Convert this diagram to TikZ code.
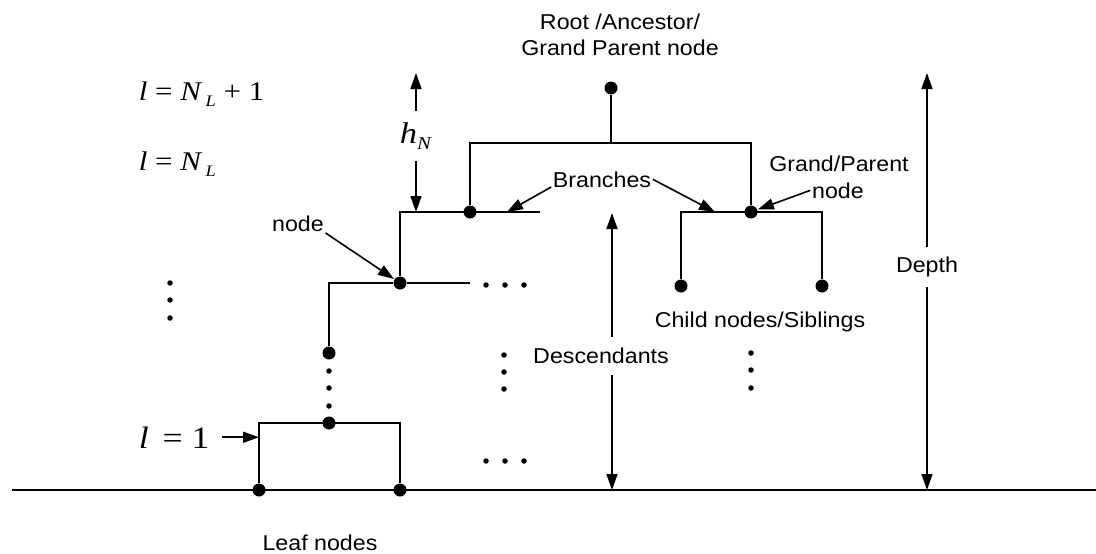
\documentclass[tikz,border=0pt]{standalone}
\usepackage{fontspec}
\setmainfont{Liberation Sans}[FakeStretch=1.08]
\newfontfamily\tms{Liberation Serif}[FakeStretch=1.15]
\usetikzlibrary{arrows.meta,positioning}

\begin{document}
\begin{tikzpicture}[x=1pt, y=-1pt, line width=1.6pt,
    every node/.style={font=\fontsize{21.5}{25}\selectfont, inner sep=1pt},
    bigdot/.style={circle, fill=black, inner sep=0pt, minimum size=13pt},
    smalldot/.style={circle, fill=black, inner sep=0pt, minimum size=5.5pt},
    arr/.style={-{Triangle[length=16pt, width=11pt]}},
    eqn/.style={font=\tms\fontsize{27}{30}\selectfont, anchor=base west}]

    \useasboundingbox (0,0) rectangle (1096,554);

    % Ground line
    \coordinate (gl) at (12,490);
    \coordinate (gr) at (1096,490);
    \draw[line width=2.2pt] (gl) -- (gr);

    % Leaf level, l = 1
    \node[bigdot] (leaf1) at (259,490) {};
    \node[bigdot] (leaf2) at (400,490) {};
    \node[bigdot] (n1) at (329,423) {};
    \draw (leaf1) -- (leaf1 |- n1) -- (leaf2 |- n1) -- (leaf2);

    % Dotted column up to the node
    \foreach \y [count=\i] in {371,388,406} \node[smalldot] (vd\i) at (329,\y) {};
    \node[bigdot] (n2) at (329,353) {};
    \node[bigdot] (n3) at (400,283) {};
    \coordinate (n3r) at (470,283);
    \draw (n2) -- (n2 |- n3) -- (n3) -- (n3r);

    % Top-left parent, l = N_L
    \node[bigdot] (p1) at (470,212) {};
    \coordinate (p1l) at (400,212);
    \coordinate (p1r) at (540,212);
    \draw (n3) -- (p1l) -- (p1r);

    % Root and grand/parent
    \node[bigdot] (root) at (611,88) {};
    \node[bigdot] (p2) at (751,212) {};
    \coordinate (rb) at (611,143);
    \draw (root) -- (rb);
    \draw (p1) -- (p1 |- rb) -- (p2 |- rb) -- (p2);

    % Children
    \node[bigdot] (c1) at (681,286) {};
    \node[bigdot] (c2) at (822,286) {};
    \draw (c1) -- (c1 |- p2) -- (c2 |- p2) -- (c2);

    % Ellipses
    \foreach \y [count=\i] in {283,300,318} \node[smalldot] (ld\i) at (170,\y) {};
    \foreach \y [count=\i] in {355,372,389} \node[smalldot] (md\i) at (504,\y) {};
    \foreach \y [count=\i] in {353,370,388} \node[smalldot] (rd\i) at (751,\y) {};
    \foreach \x [count=\i] in {486,505,524} {
        \node[smalldot] (ha\i) at (\x,285) {};
        \node[smalldot] (hb\i) at (\x,461) {};
    }

    % Labels
    \node[anchor=base] (rootlbla) at (620,30) {Root /Ancestor/};
    \node[anchor=base] (rootlblb) at (620,55) {Grand Parent node};

    \node[anchor=base] (brlbl) at (602,187) {Branches};
    \coordinate (brtipl) at (507,212);
    \coordinate (brtipr) at (715,212);
    \draw[arr] (brlbl.base west) -- (brtipl);
    \draw[arr] (brlbl.east) -- (brtipr);

    \node[anchor=base] (gplbla) at (839,171) {Grand/Parent};
    \node[anchor=base] (gplblb) at (838,198) {node};
    \draw[arr] (gplblb.west) -- (p2);

    \node[anchor=base] (nodelbl) at (298,231) {node};
    \draw[arr] (nodelbl.south east) -- (n3);

    \node[anchor=base] (chlbl) at (760,327) {Child nodes/Siblings};
    \node[anchor=base] (leaflbl) at (320,550) {Leaf nodes};

    % Depth
    \coordinate (deptop) at (927,73);
    \coordinate (depbot) at (927,490);
    \node[minimum height=38pt] (deplbl) at (927,267) {Depth};
    \draw[arr] (deplbl) -- (deptop);
    \draw[arr] (deplbl) -- (depbot);

    % Descendants
    \coordinate (destop) at (612,213);
    \coordinate (desbot) at (612,490);
    \node[minimum height=36pt] (deslbl) at (601,356) {Descendants};
    \draw[arr] (destop |- deslbl.north) -- (destop);
    \draw[arr] (desbot |- deslbl.south) -- (desbot);

    % Node height h_N
    \coordinate (hntop) at (416,73);
    \coordinate (hnbot) at (416,212);
    \node[minimum height=48pt, font=\tms\fontsize{30}{32}\selectfont] (hnlbl) at (416,136) {\textit{h}\raisebox{-6pt}{\fontsize{18}{20}\selectfont\textit{N}}};
    \draw[arr] (hnlbl) -- (hntop);
    \draw[arr] (hnlbl) -- (hnbot);

    % Level labels
    \node[eqn] (lvltop) at (137,100) {\textit{l} = \textit{N}\hspace{3pt}\raisebox{-6pt}{\fontsize{16}{18}\selectfont\textit{L}} + 1};
    \node[eqn] (lvlN) at (137,170) {\textit{l} = \textit{N}\hspace{3pt}\raisebox{-6pt}{\fontsize{16}{18}\selectfont\textit{L}}};
    \node[eqn, font=\tms\fontsize{31}{34}\selectfont] (lvlone) at (137,448) {\textit{l}\hspace{14pt}=\ 1};
    \draw[arr] ([xshift=11pt]lvlone.east) -- (lvlone.east -| leaf1);
\end{tikzpicture}
\end{document}
